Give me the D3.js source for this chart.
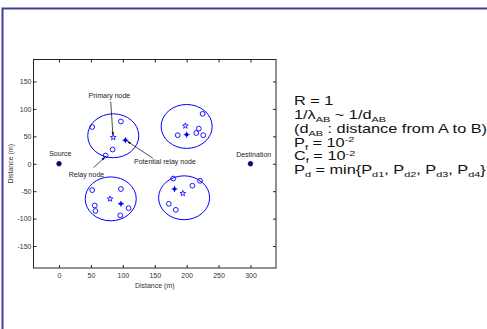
<!DOCTYPE html>
<html>
<head>
<meta charset="utf-8">
<script src="https://cdn.jsdelivr.net/npm/d3@7"></script>
<style>
  body { margin: 0; background: #fff; overflow: hidden; }
  svg text { font-family: Arial, "Liberation Sans", sans-serif; }
</style>
</head>
<body>
<div id="chart"></div>
<script>
// Node layout (metres)
const xTicks = [0, 50, 100, 150, 200, 250, 300];
const yTicks = [-150, -100, -50, 0, 50, 100, 150];

const endpoints = [
  { name: 'Source', x: 0, y: 0, lx: 2, ly: 18 },
  { name: 'Destination', x: 300, y: 0, lx: 305, ly: 16 }
];

// cluster boundaries: centre and radius
const clusters = [
  { cx: 85, cy: 51, r: 40 },
  { cx: 200, cy: 68, r: 40 },
  { cx: 81, cy: -64, r: 40 },
  { cx: 196, cy: -62, r: 40 }
];

// secondary nodes (open circles)
const relayNodes = [
  [52, 67], [97, 77], [84, 26], [73, 15],
  [225, 91], [219, 64], [215, 56], [226, 52], [186, 52],
  [52, -48], [97, -46], [56, -76], [57, -86], [96, -94], [109, -81],
  [179, -27], [209, -40], [221, -31], [172, -73], [183, -84]
];

// primary node of each cluster (stars)
const primaryNodes = [[85, 48], [198, 69], [80, -64], [194, -54]];

// potential relay node of each cluster (filled)
const potentialNodes = [[104, 43], [200, 53], [97, -73], [181, -46]];

const annotations = [
  { text: 'Primary node', tx: 79, ty: 125, from: [81, 113], to: [84.5, 52] },
  { text: 'Potential relay node', tx: 166, ty: 4, from: [147, 10], to: [107, 41] },
  { text: 'Relay node', tx: 43, ty: -20, from: [54, -7], to: [72, 12] }
];

const W = 487, H = 329;
const svg = d3.select('#chart').append('svg')
  .attr('width', W).attr('height', H);

// outer frame of the slide
svg.append('path')
  .attr('d', `M2.5,${H} V8.5 H${W}`)
  .attr('fill', 'none')
  .attr('stroke', '#40409c')
  .attr('stroke-width', 2);

const x = d3.scaleLinear().domain([-40, 340]).range([33.5, 276]);
const y = d3.scaleLinear().domain([-190, 190]).range([268, 59.5]);
const blue = '#0000ff';

// axes (MATLAB style box with inward ticks)
const tickLen = 3;
svg.append('g').attr('transform', 'translate(0,268)')
  .call(d3.axisBottom(x).tickValues(xTicks).tickSize(-tickLen).tickPadding(5).tickFormat(String))
  .call(g => g.select('.domain').remove());
svg.append('g').attr('transform', 'translate(0,59.5)')
  .call(d3.axisTop(x).tickValues(xTicks).tickSize(-tickLen).tickFormat(''))
  .call(g => g.select('.domain').remove());
svg.append('g').attr('transform', 'translate(33.5,0)')
  .call(d3.axisLeft(y).tickValues(yTicks).tickSize(-tickLen).tickPadding(2).tickFormat(String))
  .call(g => g.select('.domain').remove());
svg.append('g').attr('transform', 'translate(276,0)')
  .call(d3.axisRight(y).tickValues(yTicks).tickSize(-tickLen).tickFormat(''))
  .call(g => g.select('.domain').remove());

svg.selectAll('.tick text').attr('font-size', 7).attr('fill', '#333');
svg.selectAll('.tick line').attr('stroke', '#222');

svg.append('rect')
  .attr('x', 33.5).attr('y', 59.5)
  .attr('width', 276 - 33.5).attr('height', 268 - 59.5)
  .attr('fill', 'none').attr('stroke', '#222').attr('stroke-width', 1);

svg.append('text')
  .attr('x', x(150)).attr('y', 288)
  .attr('text-anchor', 'middle').attr('font-size', 7).attr('fill', '#333')
  .text('Distance (m)');
svg.append('text')
  .attr('transform', `translate(13,${y(0)}) rotate(-90)`)
  .attr('text-anchor', 'middle').attr('font-size', 7).attr('fill', '#333')
  .text('Distance (m)');

// clusters
svg.append('g').selectAll('ellipse')
  .data(clusters).join('ellipse')
  .attr('cx', d => x(d.cx)).attr('cy', d => y(d.cy))
  .attr('rx', d => x(d.r) - x(0)).attr('ry', d => y(0) - y(d.r))
  .attr('fill', 'none').attr('stroke', blue).attr('stroke-width', 1);

svg.append('g').selectAll('circle')
  .data(relayNodes).join('circle')
  .attr('cx', d => x(d[0])).attr('cy', d => y(d[1]))
  .attr('r', 2.4)
  .attr('fill', 'none').attr('stroke', blue).attr('stroke-width', 0.9);

const star = d3.symbol().type(d3.symbolStar).size(10);
svg.append('g').selectAll('path')
  .data(primaryNodes).join('path')
  .attr('transform', d => `translate(${x(d[0])},${y(d[1])})`)
  .attr('d', star)
  .attr('fill', 'none').attr('stroke', blue).attr('stroke-width', 0.8);

const pot = svg.append('g').selectAll('g')
  .data(potentialNodes).join('g')
  .attr('transform', d => `translate(${x(d[0])},${y(d[1])})`);
pot.append('circle').attr('r', 1.8).attr('fill', blue);
pot.append('path').attr('d', 'M-3,0H3M0,-3V3')
  .attr('stroke', blue).attr('stroke-width', 0.9);

// source / destination
svg.append('g').selectAll('circle')
  .data(endpoints).join('circle')
  .attr('cx', d => x(d.x)).attr('cy', d => y(d.y))
  .attr('r', 2.4).attr('fill', '#0a0a4a').attr('stroke', '#1a1aa0').attr('stroke-width', 0.6);
svg.append('g').selectAll('text')
  .data(endpoints).join('text')
  .attr('x', d => x(d.lx)).attr('y', d => y(d.ly) + 2.5)
  .attr('text-anchor', 'middle').attr('font-size', 7).attr('fill', '#222')
  .text(d => d.name);

// annotations with arrows
svg.append('defs').append('marker')
  .attr('id', 'arr').attr('viewBox', '0 0 10 10')
  .attr('refX', 10).attr('refY', 5)
  .attr('markerWidth', 5).attr('markerHeight', 5)
  .attr('orient', 'auto')
  .append('path').attr('d', 'M0,1.5L10,5L0,8.5Z').attr('fill', '#000');

const ann = svg.append('g');
ann.selectAll('line')
  .data(annotations).join('line')
  .attr('x1', d => x(d.from[0])).attr('y1', d => y(d.from[1]))
  .attr('x2', d => x(d.to[0])).attr('y2', d => y(d.to[1]))
  .attr('stroke', '#000').attr('stroke-width', 0.7)
  .attr('marker-end', 'url(#arr)');
ann.selectAll('text')
  .data(annotations).join('text')
  .attr('x', d => x(d.tx)).attr('y', d => y(d.ty) + 2.5)
  .attr('text-anchor', 'middle').attr('font-size', 7).attr('fill', '#222')
  .text(d => d.text);

// parameter block (slide text is stretched horizontally)
const params = [
  [['R = 1', '']],
  [['1/λ', ''], ['AB', 'sub'], [' ~ 1/d', ''], ['AB', 'sub']],
  [['(d', ''], ['AB', 'sub'], [' : distance from A to B)', '']],
  [['P', ''], ['f', 'sub'], [' = 10', ''], ['-2', 'sup']],
  [['C', ''], ['f', 'sub'], [' = 10', ''], ['-2', 'sup']],
  [['P', ''], ['d', 'sub'], [' = min{P', ''], ['d1', 'sub'], [', P', ''], ['d2', 'sub'],
   [', P', ''], ['d3', 'sub'], [', P', ''], ['d4', 'sub'], ['}', '']]
];
const baselines = [105, 119, 133, 147, 160.5, 174.5];

const block = svg.append('g').attr('transform', 'translate(294,0) scale(1.36,1)');
params.forEach((parts, i) => {
  const t = block.append('text')
    .attr('x', 0).attr('y', baselines[i])
    .attr('font-size', 12).attr('fill', '#111');
  let prev = 0;
  parts.forEach(([s, kind]) => {
    const shift = kind === 'sub' ? 3 : kind === 'sup' ? -4.5 : 0;
    const ts = t.append('tspan').text(s).attr('dy', shift - prev);
    if (kind) ts.attr('font-size', 8);
    prev = shift;
  });
});
</script>
</body>
</html>
